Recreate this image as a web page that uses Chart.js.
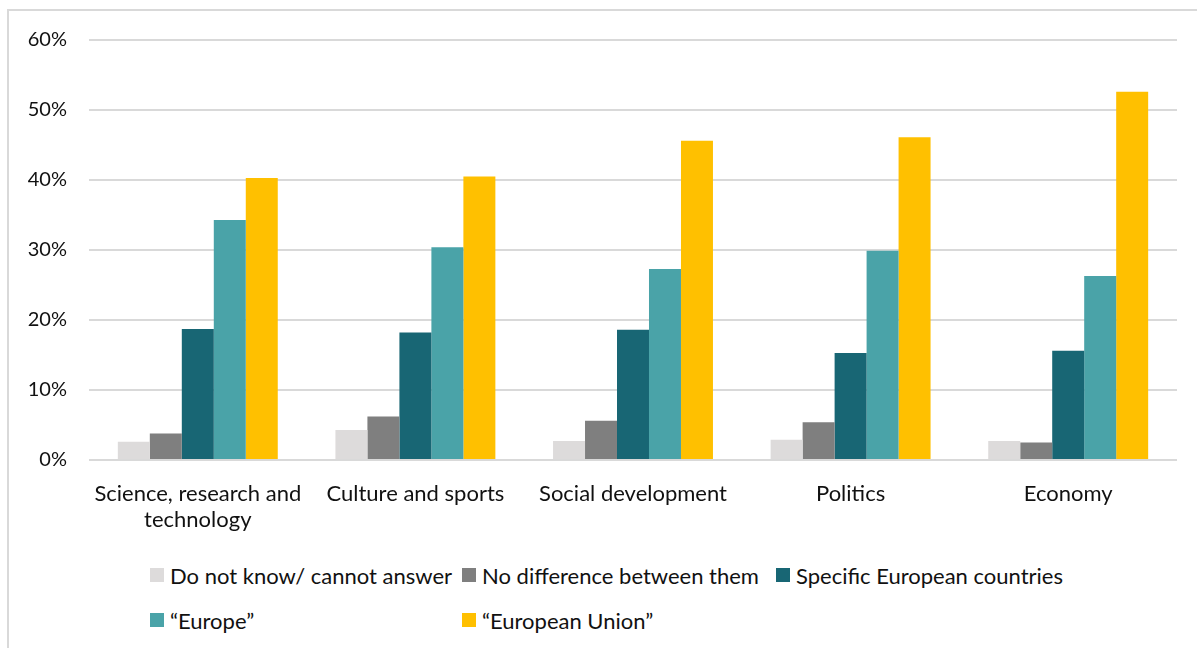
<!DOCTYPE html>
<html>
<head>
<meta charset="utf-8">
<script src="https://cdn.jsdelivr.net/npm/chart.js@4"></script>
<style>
  html, body { margin: 0; padding: 0; background: #fff; }
  body { width: 1197px; height: 648px; position: relative; overflow: hidden; font-family: Lato, "Open Sans", sans-serif; }
  .frame { position: absolute; left: 7px; top: 9px; right: 0; bottom: 0; border-top: 2px solid #d9d9d9; border-left: 2px solid #d9d9d9; }
  .plot { position: absolute; left: 0; top: 0; width: 1197px; height: 540px; }
  #legend { position: absolute; left: 150px; top: 563px; display: grid; grid-template-columns: 312px 314px 330px; row-gap: 21px; }
  #legend .item { display: flex; align-items: center; font-size: 22px; color: #111; white-space: nowrap; height: 24px; }
  #legend .box { width: 14px; height: 14px; margin-right: 6px; flex: none; }
</style>
</head>
<body>
<div class="frame"></div>
<div class="plot"><canvas id="chart"></canvas></div>
<div id="legend"></div>
<script>
const categories = [
  ['Science, research and', 'technology'],
  'Culture and sports',
  'Social development',
  'Politics',
  'Economy'
];
const seriesNames = [
  'Do not know/ cannot answer',
  'No difference between them',
  'Specific European countries',
  '\u201cEurope\u201d',
  '\u201cEuropean Union\u201d'
];
const dontKnow     = [2.6, 4.3, 2.7, 2.9, 2.7];
const noDifference = [3.8, 6.2, 5.6, 5.4, 2.5];
const specific     = [18.7, 18.2, 18.6, 15.3, 15.6];
const europe       = [34.3, 30.4, 27.3, 29.9, 26.3];
const eu           = [40.3, 40.5, 45.6, 46.1, 52.6];
const yTicks = [0, 10, 20, 30, 40, 50, 60];

const colors = ['#dddbdb', '#7f7f7f', '#186674', '#4aa3a8', '#ffc000'];
const values = [dontKnow, noDifference, specific, europe, eu];

const textColor = '#111';

const chart = new Chart(document.getElementById('chart'), {
  type: 'bar',
  data: {
    labels: categories,
    datasets: values.map((v, i) => ({
      label: seriesNames[i],
      data: v,
      backgroundColor: colors[i],
      borderWidth: 0,
      categoryPercentage: 0.735,
      barPercentage: 1.0
    }))
  },
  options: {
    responsive: true,
    maintainAspectRatio: false,
    animation: false,
    layout: { padding: { top: 40, right: 20, left: 0, bottom: 0 } },
    plugins: {
      legend: { display: false },
      tooltip: { enabled: false }
    },
    scales: {
      x: {
        grid: { display: false },
        border: { display: false },
        ticks: {
          color: textColor,
          font: { family: 'Lato, "Open Sans", sans-serif', size: 22, lineHeight: 1.22 },
          padding: 12, maxRotation: 0, autoSkip: false
        },
        afterFit(scale) { scale.height = 80; }
      },
      y: {
        min: 0,
        max: 60,
        afterBuildTicks(scale) { scale.ticks = yTicks.map(v => ({ value: v })); },
        grid: { color: '#d9d9d9', lineWidth: 2, drawTicks: false },
        border: { display: false },
        ticks: {
          color: textColor,
          font: { family: 'Lato, "Open Sans", sans-serif', size: 20 },
          padding: 22, callback: (v) => v + '%'
        },
        afterFit(scale) { scale.width = 89; }
      }
    }
  }
});

// legend laid out as in the original (fixed columns)
const legendEl = document.getElementById('legend');
chart.data.datasets.forEach((ds) => {
  const item = document.createElement('div');
  item.className = 'item';
  const box = document.createElement('span');
  box.className = 'box';
  box.style.background = ds.backgroundColor;
  const label = document.createElement('span');
  label.textContent = ds.label;
  item.appendChild(box);
  item.appendChild(label);
  legendEl.appendChild(item);
});
</script>
</body>
</html>
